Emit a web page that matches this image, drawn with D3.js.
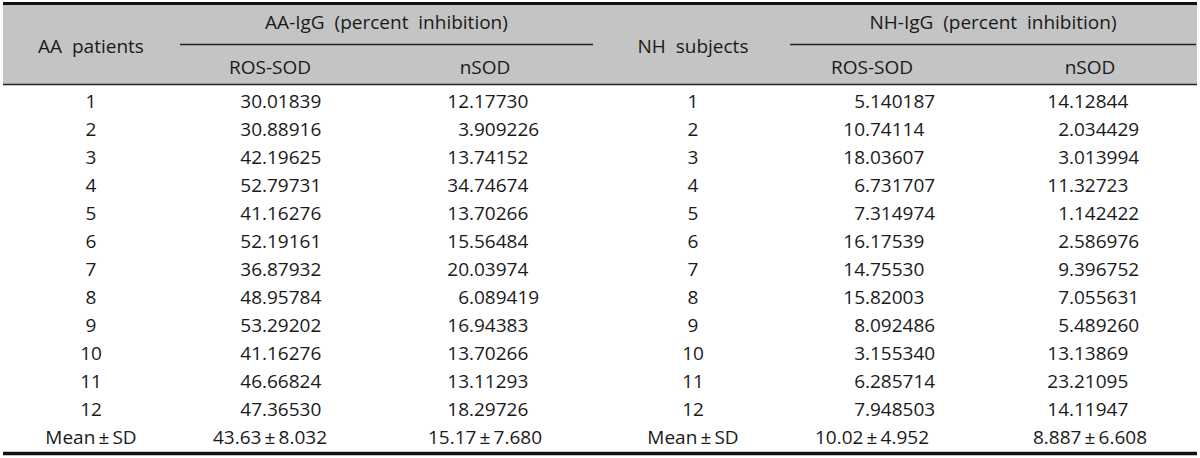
<!DOCTYPE html>
<html>
<head>
<meta charset="utf-8">
<script src="https://cdn.jsdelivr.net/npm/d3@7"></script>
<style>
  html, body { margin: 0; padding: 0; background: #fff; }
  svg text { font-family: "Open Sans", "Noto Sans", sans-serif; font-size: 19px; fill: #1a1a1a; white-space: pre; }
</style>
</head>
<body>
<svg id="chart" width="1200" height="458"></svg>
<script>
// ---- data ----
const subjectIds = ["1","2","3","4","5","6","7","8","9","10","11","12"];
const aaRosSod  = ["30.01839","30.88916","42.19625","52.79731","41.16276","52.19161","36.87932","48.95784","53.29202","41.16276","46.66824","47.36530"];
const aaNSod    = ["12.17730","3.909226","13.74152","34.74674","13.70266","15.56484","20.03974","6.089419","16.94383","13.70266","13.11293","18.29726"];
const nhRosSod  = ["5.140187","10.74114","18.03607","6.731707","7.314974","16.17539","14.75530","15.82003","8.092486","3.155340","6.285714","7.948503"];
const nhNSod    = ["14.12844","2.034429","3.013994","11.32723","1.142422","2.586976","9.396752","7.055631","5.489260","13.13869","23.21095","14.11947"];
const summaryLabel = "Mean\u2009\u00b1\u2009SD";
const summaryValues = ["43.63\u2009\u00b1\u20098.032","15.17\u2009\u00b1\u20097.680","10.02\u2009\u00b1\u20094.952","8.887\u2009\u00b1\u20096.608"];
const groupHeaders = ["AA  patients","NH  subjects"];
const spanHeaders = ["AA-IgG  (percent  inhibition)","NH-IgG  (percent  inhibition)"];
const subHeaders = ["ROS-SOD","nSOD","ROS-SOD","nSOD"];

// ---- layout ----
const svg = d3.select("#chart");
const W = 1200, left = 3, right = 1197;
const headTop = 5, headBottom = 84.5, midLine = 44.5;

const rowKeys = subjectIds.map((d,i)=>i).concat(["mean"]);
const y = d3.scalePoint().domain(rowKeys).range([108, 444]);

// column anchors
const idX = [91, 693];
const decX = [262, 469, 865, 1069];       // decimal alignment points
const centerX = [270, 485, 872, 1090];    // header / summary centers
const spanX = [[180, 593], [790, 1196]];

// header background
svg.append("rect").attr("x", left).attr("y", headTop).attr("width", right - left).attr("height", headBottom - headTop)
  .attr("fill", "#c4c4c4");

// rules
svg.append("line").attr("x1", left).attr("x2", right).attr("y1", 3.5).attr("y2", 3.5).attr("stroke", "#111").attr("stroke-width", 3);
svg.append("line").attr("x1", left).attr("x2", right).attr("y1", headBottom).attr("y2", headBottom).attr("stroke", "#222").attr("stroke-width", 1.5);
svg.append("line").attr("x1", left).attr("x2", right).attr("y1", 453.5).attr("y2", 453.5).attr("stroke", "#111").attr("stroke-width", 3.5);
spanX.forEach(s => svg.append("line").attr("x1", s[0]).attr("x2", s[1]).attr("y1", midLine).attr("y2", midLine).attr("stroke", "#222").attr("stroke-width", 1.3));

// headers
groupHeaders.forEach((t,i) => svg.append("text").attr("x", idX[i]).attr("y", 53).attr("text-anchor","middle").text(t));
spanHeaders.forEach((t,i) => svg.append("text").attr("x", (spanX[i][0]+spanX[i][1])/2).attr("y", 29).attr("text-anchor","middle").text(t));
subHeaders.forEach((t,i) => svg.append("text").attr("x", centerX[i]).attr("y", 74).attr("text-anchor","middle").text(t));

// body
const cols = [aaRosSod, aaNSod, nhRosSod, nhNSod];
idX.forEach(x => {
  svg.append("g").selectAll("text").data(subjectIds).join("text")
    .attr("x", x).attr("y", (d,i) => y(i)).attr("text-anchor","middle").text(d => d);
  svg.append("text").attr("x", x).attr("y", y("mean")).attr("text-anchor","middle").text(summaryLabel);
});
cols.forEach((col, c) => {
  const g = svg.append("g");
  g.selectAll("text.int").data(col).join("text").attr("class","int")
    .attr("x", decX[c]).attr("y", (d,i) => y(i)).attr("text-anchor","end").text(d => d.split(".")[0]);
  g.selectAll("text.frac").data(col).join("text").attr("class","frac")
    .attr("x", decX[c]).attr("y", (d,i) => y(i)).attr("text-anchor","start").text(d => "." + d.split(".")[1]);
  svg.append("text").attr("x", centerX[c]).attr("y", y("mean")).attr("text-anchor","middle").text(summaryValues[c]);
});
</script>
</body>
</html>
